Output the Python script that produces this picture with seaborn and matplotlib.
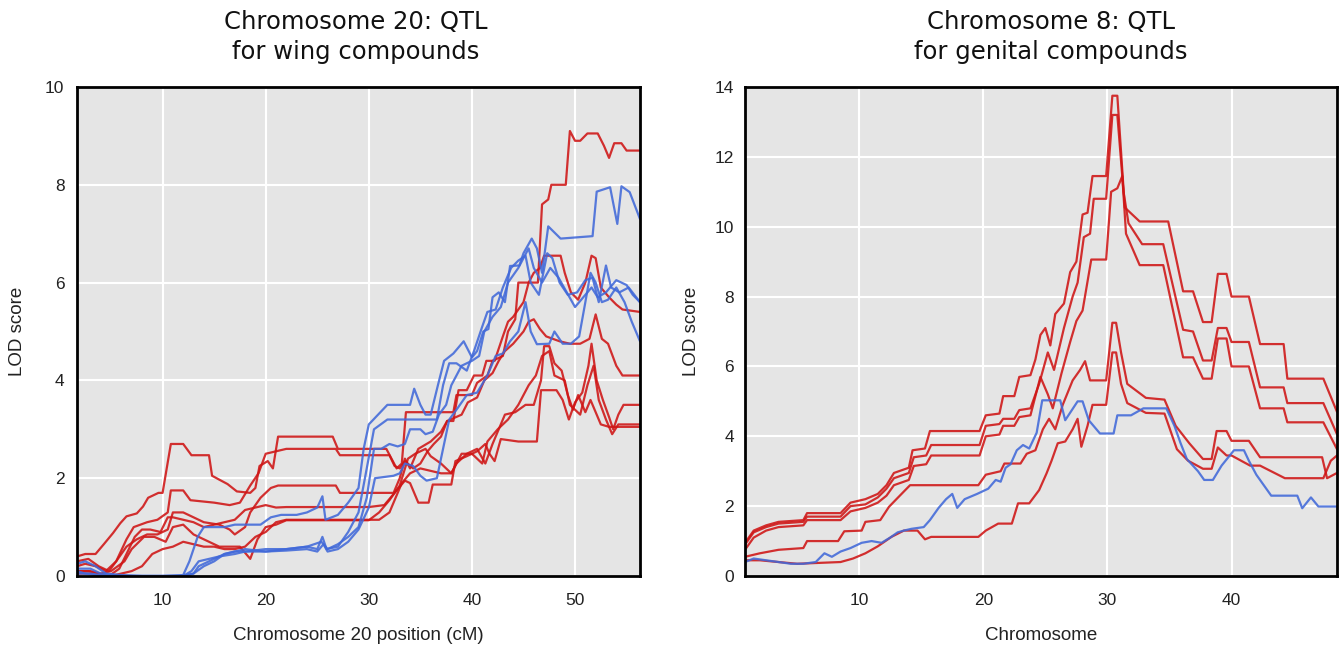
import matplotlib
matplotlib.use("Agg")
import matplotlib.pyplot as plt
import pandas as pd
import seaborn as sns

# ---------------- data ----------------
panel_titles = ["Chromosome 20: QTL\nfor wing compounds", "Chromosome 8: QTL\nfor genital compounds"]
x_labels = ["Chromosome 20 position (cM)", "Chromosome"]
y_label = "LOD score"
wing_xticks = [10, 20, 30, 40, 50]
wing_yticks = [0, 2, 4, 6, 8, 10]
gen_xticks = [10, 20, 30, 40]
gen_yticks = [0, 2, 4, 6, 8, 10, 12, 14]

# Left panel (chromosome 20), red curves
wing_red_a = [(1.7,0.4),(2.5,0.45),(3.5,0.45),(4.3,0.65),(5.2,0.88),(5.9,1.08),(6.5,1.22),(7.5,1.28),(8.1,1.42),(8.6,1.6),(9.6,1.7),(10,1.7),(10.8,2.7),(12,2.7),(12.8,2.47),(14.5,2.47),(14.8,2.05),(15.5,1.97),(16.3,1.88),(17.2,1.73),(18.5,1.7),(19,1.8),(19.4,2.25),(20.2,2.35),(20.7,2.2),(21.2,2.85),(26.5,2.85),(27,2.6),(31.7,2.6),(32.7,2.2),(33.2,2.3),(33.6,3.35),(38.2,3.35),(38.5,3.7),(40,3.7),(40.5,3.95),(41.5,4.1),(42,4.4),(43,4.5),(43.5,5.0),(44.2,5.25),(44.5,6.0),(46.4,6.0),(46.8,7.6),(47.4,7.7),(47.7,8.0),(49.1,8.0),(49.5,9.1),(50,8.9),(50.5,8.9),(51.2,9.05),(52.2,9.05),(52.8,8.8),(53.3,8.55),(53.8,8.85),(54.5,8.85),(55,8.7),(56.3,8.7)]
wing_red_b = [(1.7,0.3),(2.8,0.35),(3.8,0.2),(4.8,0.1),(5.5,0.3),(6.5,0.75),(7.2,1.0),(8.5,1.1),(9.5,1.15),(10.5,1.3),(10.8,1.75),(12,1.75),(12.7,1.55),(15,1.5),(16.5,1.45),(17.5,1.5),(18.5,1.85),(19.3,2.1),(20,2.5),(21,2.55),(22,2.6),(26.8,2.6),(27.2,2.47),(32,2.47),(32.5,2.25),(33,2.2),(33.5,2.35),(34.3,2.2),(35,2.3),(35.7,2.55),(36.3,2.7),(37,2.85),(37.6,3.17),(38.2,3.17),(38.7,3.8),(39.5,3.8),(40.2,4.1),(41,4.1),(41.4,4.4),(42.2,4.4),(43,4.9),(43.5,5.2),(44,5.3),(45,5.6),(45.5,6.0),(46,6.2),(46.6,6.3),(47,6.55),(48.6,6.55),(49,6.2),(49.6,5.8),(50.3,5.65),(51,6.0),(51.6,6.55),(52,6.5),(52.5,5.9),(53.3,5.7),(54,5.55),(54.6,5.45),(56.3,5.4)]
wing_red_c = [(1.7,0.2),(2.5,0.25),(3.5,0.2),(4.5,0.1),(5.5,0.3),(6.5,0.6),(7.5,0.75),(8.5,0.85),(9.5,0.85),(10.5,0.95),(11,1.3),(12,1.3),(13,1.2),(14,1.1),(15.5,1.05),(16.5,0.95),(17,0.85),(18,1.0),(18.5,1.3),(19.5,1.6),(20.5,1.8),(21.2,1.85),(26.8,1.85),(27.2,1.7),(32.4,1.7),(33,2.0),(33.5,2.4),(34,2.2),(34.8,2.6),(36,2.75),(37,2.95),(37.6,3.17),(39,3.3),(39.6,3.55),(40.5,3.65),(41.2,4.0),(42,4.15),(42.6,4.4),(43.2,4.6),(44,4.75),(45,5.0),(45.5,5.2),(46,5.25),(46.6,5.05),(47.2,4.9),(48.5,4.8),(49.5,4.75),(50.5,4.75),(51.4,4.85),(52,5.35),(52.6,4.85),(53.2,4.75),(54,4.3),(54.6,4.1),(56.3,4.1)]
wing_red_d = [(1.7,0.1),(2.8,0.1),(3.8,0.05),(4.8,0.0),(5.8,0.15),(6.5,0.45),(7.3,0.8),(8,0.95),(8.8,0.95),(9.8,0.9),(10.5,1.2),(11,1.2),(12,1.15),(13,1.1),(14,1.0),(15,1.05),(16,1.1),(17,1.15),(18,1.35),(19,1.4),(20,1.45),(21,1.4),(22,1.41),(30,1.41),(31.5,1.45),(32.5,1.7),(33.5,1.95),(34,1.9),(34.8,1.5),(35.8,1.5),(36.2,1.87),(38,1.87),(38.4,2.35),(39.5,2.45),(40.5,2.55),(41.3,2.7),(41.7,2.5),(42.2,2.35),(42.8,2.8),(44.5,2.75),(46.3,2.75),(46.7,3.8),(48.2,3.8),(48.8,3.6),(49.4,3.2),(50,3.55),(50.7,3.75),(51.3,4.3),(51.6,4.75),(52.1,4.0),(52.7,3.6),(53.3,3.25),(53.7,3.0),(54.2,3.3),(54.7,3.5),(56.3,3.5)]
wing_red_e = [(1.7,0.05),(3,0.05),(4,0.0),(5,0.0),(6,0.05),(7,0.1),(8,0.2),(9,0.45),(10,0.55),(11,0.6),(12,0.7),(13,0.65),(14,0.6),(15,0.6),(16,0.55),(17,0.55),(18,0.6),(19,0.8),(20,0.9),(21,1.1),(22,1.15),(31,1.15),(32,1.3),(32.6,1.6),(33.2,1.9),(34,2.1),(35,2.2),(36,2.15),(37,2.1),(38,2.1),(38.5,2.3),(39.5,2.5),(40.5,2.6),(41.3,2.3),(42,2.7),(43.2,3.3),(44.2,3.35),(45.2,3.5),(46,3.5),(46.7,4.0),(47,4.7),(47.5,4.7),(48,4.35),(48.7,4.2),(49.3,3.7),(49.8,3.4),(50.3,3.7),(51,3.35),(51.5,3.6),(52,3.35),(52.5,3.1),(53.3,3.05),(56.3,3.05)]
wing_red_f = [(1.7,0.1),(3,0.1),(4,0.05),(5,0.1),(6.3,0.3),(7,0.55),(8.2,0.8),(9.2,0.8),(10.3,0.7),(11,1.0),(12,1.05),(13,0.85),(14,0.75),(15.5,0.6),(17.5,0.6),(18.5,0.35),(19.2,0.75),(20,1.0),(21,1.05),(22,1.14),(30,1.14),(31,1.3),(32,1.55),(33,1.85),(33.8,2.4),(34.5,2.5),(35.5,2.6),(36,2.45),(37,2.3),(38,2.1),(39,2.5),(40,2.5),(41,2.3),(41.5,2.75),(42.5,3.0),(43.5,3.2),(44.5,3.5),(45.5,3.9),(46.2,4.1),(46.8,4.5),(47.5,4.6),(48,4.1),(49,4.0),(49.5,3.5),(50.5,3.3),(51.2,3.9),(51.8,4.3),(52.3,3.6),(53,3.2),(53.6,2.9),(54.2,3.1),(56.3,3.1)]

# Left panel, blue curves
wing_blue_a = [(1.7,0.25),(2.5,0.3),(3.5,0.2),(4.5,0.05),(6,0.02),(8,0.0),(10,0.0),(12,0.02),(12.6,0.3),(13.4,0.8),(14,1.0),(16,1.0),(17,1.05),(19.5,1.05),(20.5,1.2),(21.5,1.25),(23,1.25),(24,1.3),(25,1.4),(25.5,1.63),(25.8,1.15),(27,1.25),(28,1.5),(29,1.8),(29.5,2.6),(30,3.1),(31.8,3.5),(34,3.5),(34.4,3.83),(35,3.5),(35.5,3.3),(36,3.3),(36.7,3.9),(37.3,4.4),(38.2,4.55),(39.2,4.8),(40,4.47),(40.5,4.6),(41.1,5.0),(41.6,5.05),(42,5.7),(42.6,5.8),(43.2,5.6),(43.7,6.34),(44.6,6.35),(45,6.6),(45.8,6.9),(46.3,6.7),(46.8,6.2),(47.4,7.15),(48.6,6.9),(51.7,6.95),(52.1,7.86),(53.4,7.95),(54.1,7.2),(54.5,7.97),(55.3,7.85),(56.3,7.3)]
wing_blue_b = [(1.7,0.15),(3,0.15),(4,0.05),(6,0.0),(12,0.0),(13,0.05),(13.5,0.2),(14.5,0.3),(16,0.45),(17,0.5),(18,0.55),(20,0.5),(22,0.55),(24,0.6),(25,0.55),(25.5,0.8),(25.9,0.55),(27,0.6),(28,0.9),(29,1.3),(29.8,2.2),(30.5,3.0),(31.8,3.2),(36.6,3.2),(37.2,3.9),(37.8,4.35),(38.5,4.35),(39.5,4.2),(40.2,4.6),(41,5.1),(41.5,5.4),(42.3,5.45),(43,5.9),(43.8,6.3),(44.5,6.45),(45.2,6.55),(45.7,6.0),(46.5,5.75),(47.3,6.6),(47.8,6.5),(48.5,6.0),(49.3,5.75),(50.2,5.8),(51,6.05),(51.7,6.1),(52.3,5.6),(53,6.35),(53.5,5.9),(54.3,5.8),(55.2,5.9),(56.3,5.6)]
wing_blue_c = [(1.7,0.05),(3,0.05),(4.5,0.0),(12,0.0),(13,0.05),(14,0.2),(15,0.3),(16,0.45),(17,0.5),(20,0.5),(22,0.52),(24,0.55),(25,0.5),(25.6,0.65),(26,0.5),(27,0.55),(28,0.7),(29,0.95),(30,1.4),(30.6,2.0),(32.4,2.05),(33,2.1),(33.5,2.3),(34.3,2.25),(35,2.05),(35.6,1.95),(36.6,2.0),(37.2,2.6),(37.8,3.2),(38.5,3.4),(39.5,3.7),(40.5,3.75),(41.5,4.1),(42.3,4.5),(43,4.55),(43.7,4.8),(44.5,5.0),(45.2,5.6),(45.7,5.0),(46.3,4.74),(47.5,4.75),(48,5.0),(48.8,4.75),(49.6,4.75),(50.4,4.9),(51,5.6),(51.5,6.2),(52,6.0),(52.6,5.6),(53.2,5.65),(54,5.9),(54.8,5.6),(55.5,5.2),(56.3,4.8)]
wing_blue_d = [(1.7,0.1),(2.5,0.05),(4,0.0),(12,0.0),(12.8,0.1),(13.5,0.3),(14.5,0.35),(15.5,0.4),(17,0.45),(18,0.5),(20,0.55),(22,0.55),(24,0.6),(25.4,0.7),(26,0.55),(27,0.65),(28,0.8),(29,1.0),(29.8,1.6),(30.5,2.6),(31.2,2.6),(32,2.7),(32.8,2.65),(33.5,2.7),(34,3.0),(35,3.0),(35.5,2.9),(36.2,2.95),(36.8,3.3),(37.5,3.5),(38,3.9),(39,4.3),(40,4.4),(40.7,4.5),(41.2,5.0),(42,5.3),(42.8,5.5),(43.5,6.0),(44.5,6.3),(45.5,6.7),(46,6.3),(46.8,6.0),(47.6,6.3),(48.4,6.1),(49.2,5.8),(50,5.5),(50.8,5.7),(51.6,5.9),(52.2,5.7),(53,5.8),(54,6.05),(55,5.95),(55.6,5.75),(56.3,5.6)]

# Right panel (chromosome 8), red curves
gen_red_a = [(0.8,0.95),(1.5,1.3),(2.5,1.45),(3.5,1.55),(5.5,1.6),(5.8,1.8),(8.5,1.8),(9.3,2.1),(10.5,2.2),(11.5,2.35),(12.2,2.6),(12.8,2.95),(14,3.1),(14.3,3.6),(15.3,3.65),(15.7,4.15),(19.7,4.15),(20.2,4.6),(21.3,4.65),(21.6,5.15),(22.5,5.15),(22.9,5.7),(23.8,5.75),(24.2,6.2),(24.6,6.9),(25,7.1),(25.4,6.6),(25.8,7.5),(26.5,7.8),(27,8.7),(27.5,9.0),(28.0,10.35),(28.4,10.4),(28.8,11.45),(29.9,11.45),(30.4,13.75),(30.8,13.75),(31.4,10.55),(32.6,10.15),(34.9,10.15),(36.1,8.15),(36.9,8.15),(37.7,7.27),(38.4,7.27),(38.9,8.65),(39.6,8.65),(40.0,8.0),(41.4,8.0),(42.3,6.64),(44.2,6.64),(44.5,5.65),(47.4,5.65),(48.5,4.7)]
gen_red_b = [(0.8,0.9),(1.5,1.25),(2.5,1.4),(3.5,1.5),(5.5,1.55),(5.8,1.7),(8.5,1.7),(9.3,2.0),(10.5,2.05),(11.5,2.25),(12.2,2.5),(12.8,2.8),(14,2.95),(14.4,3.4),(15.4,3.45),(15.8,3.75),(19.7,3.75),(20.2,4.3),(21.3,4.35),(21.6,4.5),(22.5,4.5),(22.9,4.75),(23.8,4.8),(24.5,5.5),(25.2,6.4),(25.7,5.9),(26.5,7.1),(27.2,8.0),(27.6,8.4),(28.1,9.7),(28.6,9.8),(28.9,10.8),(29.9,10.8),(30.4,13.2),(30.8,13.2),(31.3,11.0),(31.7,10.1),(32.8,9.5),(34.5,9.5),(36.1,7.05),(36.9,7.0),(37.7,6.17),(38.4,6.17),(38.9,7.1),(39.6,7.1),(40,6.7),(41.4,6.7),(42.3,5.4),(44.2,5.4),(44.5,4.95),(47.4,4.95),(48.5,4.06)]
gen_red_c = [(0.8,0.75),(1.5,1.1),(2.5,1.3),(3.5,1.4),(5.5,1.45),(5.8,1.6),(8.5,1.6),(9.3,1.85),(10.5,1.95),(11.5,2.1),(12.2,2.3),(12.8,2.6),(14,2.75),(14.4,3.15),(15.4,3.2),(15.8,3.45),(19.7,3.45),(20.2,4.0),(21.3,4.05),(21.6,4.3),(22.5,4.3),(22.9,4.55),(23.8,4.6),(24.6,5.7),(25.2,5.2),(25.6,4.8),(26.3,5.8),(27,6.7),(27.5,7.3),(28,7.6),(28.7,9.06),(29.9,9.06),(30.3,11.0),(30.8,11.1),(31.2,11.45),(31.5,9.8),(32.6,8.9),(34.5,8.9),(36.1,6.26),(36.9,6.26),(37.7,5.65),(38.4,5.65),(38.9,6.8),(39.6,6.8),(40,6.0),(41.4,6.0),(42.3,4.8),(44.2,4.8),(44.5,4.4),(47.4,4.4),(48.5,3.63)]
gen_red_d = [(0.8,0.55),(2,0.65),(3.5,0.75),(5.5,0.8),(5.8,1.0),(8.3,1.0),(8.8,1.28),(10.2,1.3),(10.5,1.55),(11.7,1.6),(12.4,1.98),(13,2.2),(14.1,2.6),(19.6,2.6),(20.2,2.9),(21.4,3.0),(21.7,3.22),(23,3.22),(23.5,3.5),(24.2,3.6),(24.8,4.2),(25.3,4.5),(25.8,4.2),(26.4,4.9),(27.2,5.6),(27.8,5.9),(28.2,6.15),(28.6,5.6),(29.9,5.6),(30.4,7.25),(30.7,7.25),(31.1,6.4),(31.6,5.5),(33.1,5.1),(34.6,5.05),(35.5,4.3),(36.6,3.8),(37.7,3.35),(38.4,3.35),(38.8,4.15),(39.6,4.15),(40,3.87),(41.4,3.87),(42.3,3.4),(47.3,3.4),(47.7,2.8),(48.5,2.95)]
gen_red_e = [(0.8,0.45),(2,0.45),(3.5,0.4),(5,0.35),(8.5,0.4),(9.5,0.5),(10.5,0.65),(11.5,0.85),(12.6,1.12),(13.6,1.3),(14.7,1.3),(15.3,1.05),(15.8,1.12),(19.6,1.12),(20.2,1.3),(21.2,1.5),(22.3,1.5),(22.8,2.08),(23.7,2.08),(24.5,2.46),(25.1,2.94),(25.5,3.3),(26,3.8),(26.6,3.85),(27.2,4.2),(27.6,4.5),(27.9,3.7),(28.4,4.3),(28.8,4.9),(29.9,4.9),(30.4,6.4),(30.7,6.4),(31.1,5.5),(31.6,4.95),(33.1,4.67),(34.6,4.65),(35.6,3.63),(36.5,3.3),(37.7,3.07),(38.4,3.07),(38.9,3.68),(39.6,3.45),(40,3.45),(41.5,3.16),(42.3,3.16),(44.3,2.8),(47.4,2.8),(48,3.3),(48.5,3.45)]

# Right panel, blue curve
gen_blue_a = [(0.8,0.4),(1.5,0.5),(2.5,0.45),(3.5,0.4),(4.5,0.35),(5.5,0.35),(6.5,0.4),(7.2,0.65),(7.8,0.55),(8.5,0.7),(9.3,0.8),(10.2,0.95),(11,1.0),(11.8,0.95),(12.5,1.1),(13.1,1.25),(13.6,1.3),(14.2,1.35),(15.2,1.4),(15.7,1.6),(16.4,1.95),(17,2.2),(17.5,2.35),(17.9,1.95),(18.5,2.2),(19.5,2.35),(20.4,2.5),(21,2.75),(21.4,2.7),(21.8,3.1),(22.2,3.2),(22.7,3.6),(23.2,3.75),(23.7,3.65),(24.3,4.1),(24.75,5.03),(26.2,5.03),(26.6,4.46),(27.6,5.0),(28.0,5.0),(28.5,4.46),(29.4,4.08),(30.5,4.08),(30.8,4.6),(31.9,4.6),(32.9,4.8),(34.75,4.8),(35.4,4.3),(35.9,3.8),(36.4,3.35),(37.3,3.0),(37.8,2.75),(38.5,2.75),(39.2,3.16),(40.2,3.6),(41,3.6),(41.4,3.3),(42,2.9),(43.2,2.3),(45.3,2.3),(45.7,1.94),(46.4,2.25),(47,1.99),(48.5,1.99)]

wing_series = {"w_red_a": ("red", wing_red_a), "w_red_b": ("red", wing_red_b),
               "w_red_c": ("red", wing_red_c), "w_red_d": ("red", wing_red_d),
               "w_red_e": ("red", wing_red_e), "w_red_f": ("red", wing_red_f),
               "w_blue_a": ("blue", wing_blue_a), "w_blue_b": ("blue", wing_blue_b),
               "w_blue_c": ("blue", wing_blue_c), "w_blue_d": ("blue", wing_blue_d)}
gen_series = {"g_red_a": ("red", gen_red_a), "g_red_b": ("red", gen_red_b),
              "g_red_c": ("red", gen_red_c), "g_red_d": ("red", gen_red_d),
              "g_red_e": ("red", gen_red_e), "g_blue_a": ("blue", gen_blue_a)}

RED = "#CF1515"
BLUE = "#4169D9"


def to_frame(series):
    rows = []
    for name, (col, pts) in series.items():
        for x, y in pts:
            rows.append({"series": name, "colour": col, "x": x, "y": y})
    return pd.DataFrame(rows)


sns.set_theme(style="darkgrid", rc={"axes.facecolor": "#E5E5E5", "grid.color": "white",
                                    "grid.linewidth": 1.5})
plt.rcParams["font.family"] = ["Liberation Sans", "DejaVu Sans"]

W, H = 1340, 648
fig = plt.figure(figsize=(W / 100, H / 100), dpi=100)
fig.patch.set_facecolor("white")
ax1 = fig.add_axes([77 / W, 1 - 576 / H, (640 - 77) / W, (576 - 87) / H])
ax2 = fig.add_axes([745 / W, 1 - 576 / H, (1337 - 745) / W, (576 - 87) / H])

panels = [
    (ax1, wing_series, (1.7, 56.3), (0, 10), wing_xticks, wing_yticks, 356, 26, 77, 563),
    (ax2, gen_series, (0.8, 48.5), (0, 14), gen_xticks, gen_yticks, 1051, 700, 745, 592),
]

for i, (ax, series, xl, yl, xt, yt, tcx, ylab_px, ax_left, ax_w) in enumerate(panels):
    df = to_frame(series)
    sns.lineplot(data=df, x="x", y="y", hue="colour", hue_order=["red", "blue"],
                 units="series", estimator=None, sort=False,
                 palette={"red": RED, "blue": BLUE}, linewidth=1.6, alpha=0.88,
                 legend=False, ax=ax)
    ax.set_xlim(*xl)
    ax.set_ylim(*yl)
    ax.set_xticks(xt)
    ax.set_yticks(yt)
    ax.tick_params(axis="both", length=0, labelsize=12.5, colors="#222222")
    ax.tick_params(axis="x", pad=12)
    ax.tick_params(axis="y", pad=9 if i == 0 else 8)
    ax.set_xlabel(x_labels[i], fontsize=13.5, color="#222222", labelpad=14)
    ax.set_ylabel(y_label, fontsize=13.5, color="#222222")
    ax.yaxis.set_label_coords((ylab_px - ax_left) / ax_w, 0.5)
    for sp in ax.spines.values():
        sp.set_visible(True)
        sp.set_color("black")
        sp.set_linewidth(2.0)
    ax.grid(True, color="white", linewidth=1.5)
    fig.text(tcx / W, 1 - 37 / H, panel_titles[i], ha="center", va="center",
             fontsize=17.5, family=["DejaVu Sans"], linespacing=1.35, color="#111111")

fig.savefig("out.png", dpi=100)
